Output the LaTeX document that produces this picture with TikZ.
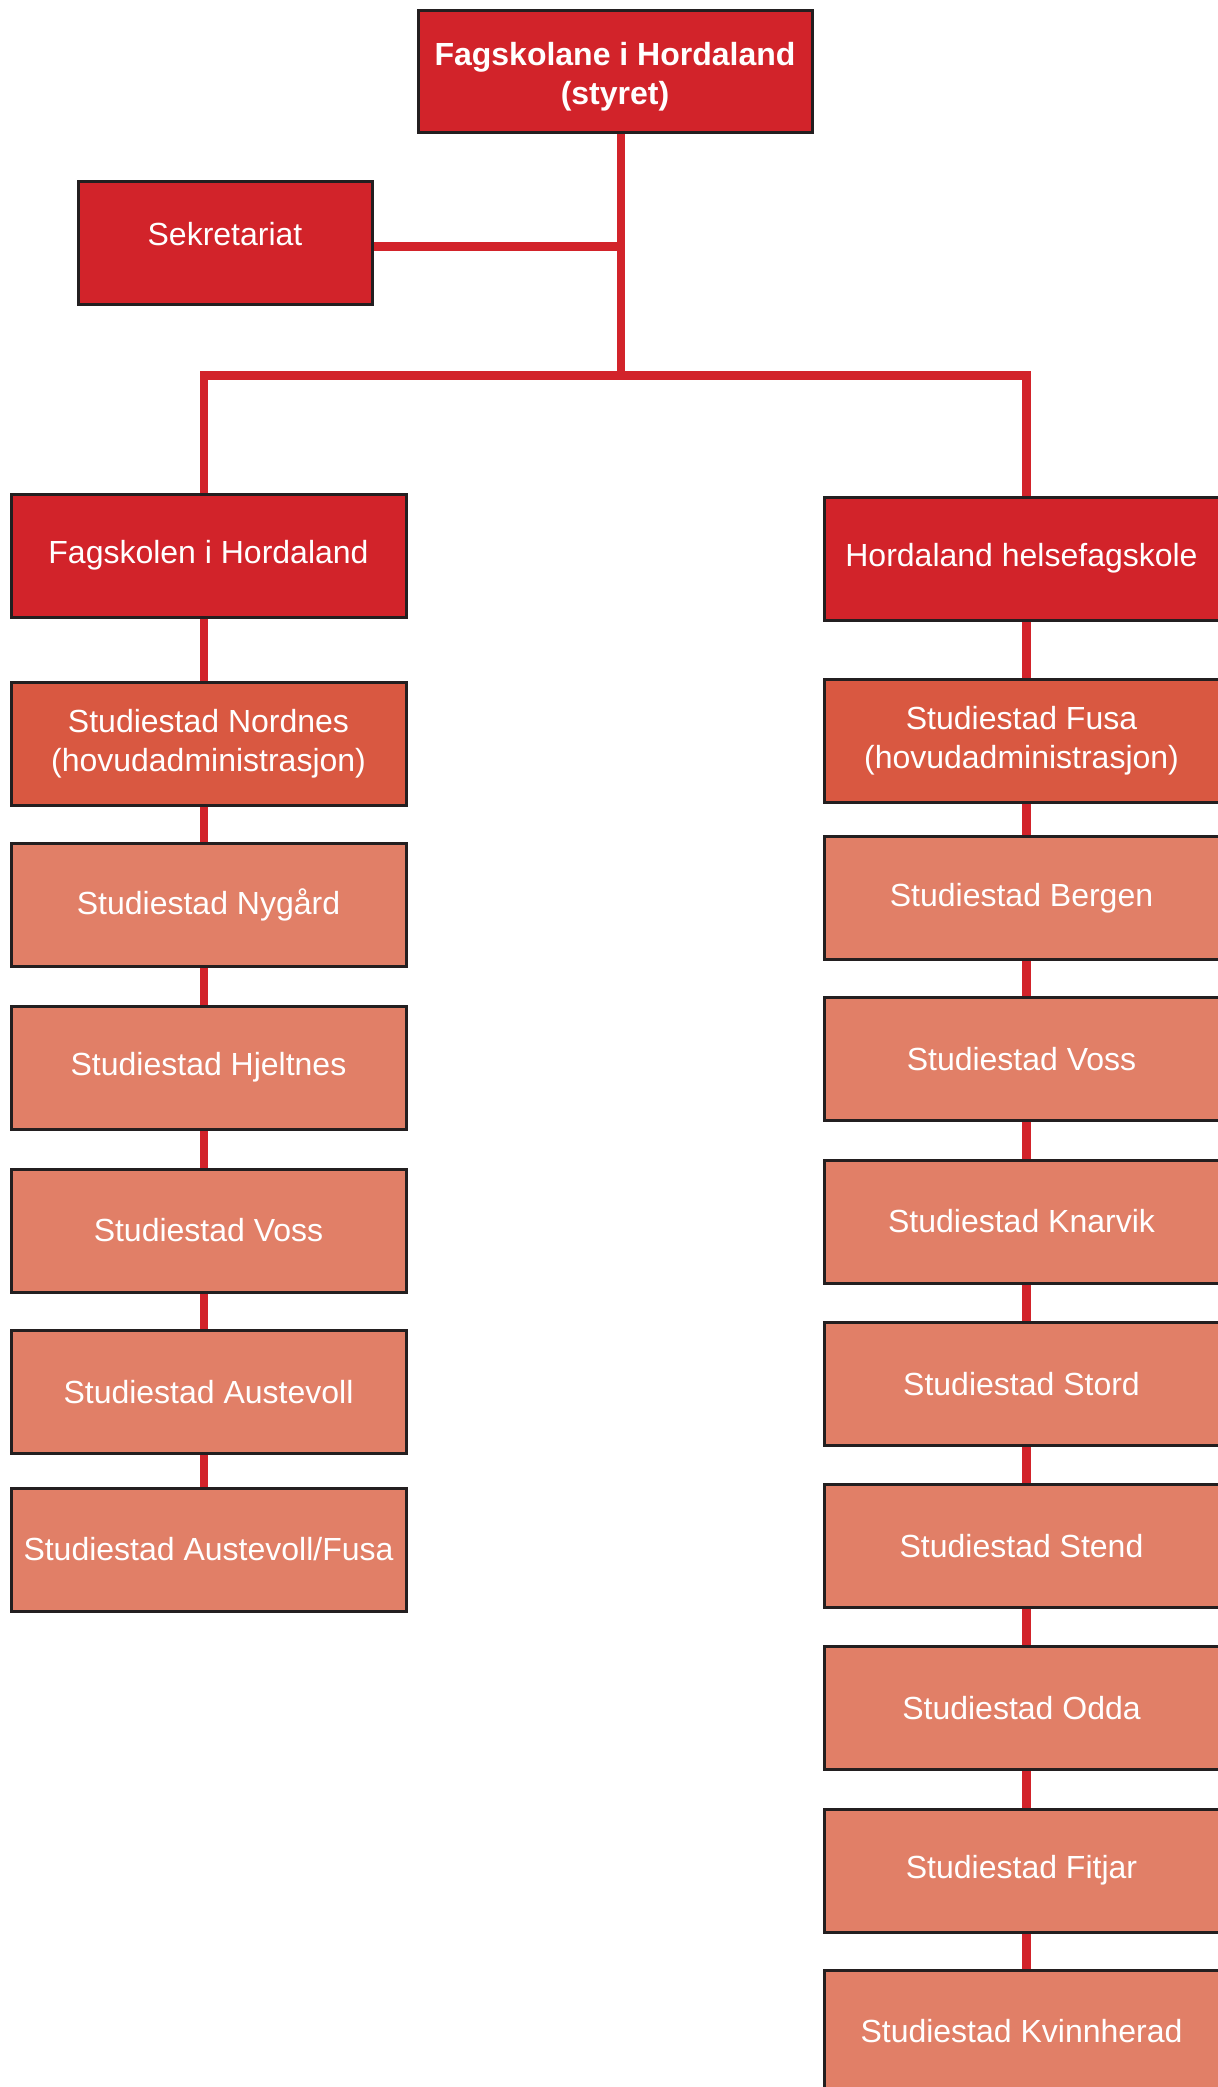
\documentclass[tikz,border=0pt]{standalone}
\usepackage{fontspec}
\setmainfont{Liberation Sans}
\usetikzlibrary{backgrounds}
\definecolor{topred}{HTML}{D2232A}
\definecolor{midred}{HTML}{D95841}
\definecolor{lightred}{HTML}{E17F67}
\definecolor{boxline}{HTML}{231F20}
\begin{document}
\begin{tikzpicture}[x=0.5pt,y=-0.5pt,
  box/.style={draw=boxline, line width=1.5pt, rectangle, inner sep=0pt,
    minimum width=197.5pt, minimum height=61.5pt, text=white, align=center,
    font=\fontsize{16}{19.5}\selectfont},
  headbox/.style={box, fill=topred},
  adminbox/.style={box, fill=midred},
  sitebox/.style={box, fill=lightred},
  conn/.style={draw=topred, line width=4.2pt, line join=miter}]
\useasboundingbox (0,0) rectangle (1218,2087);
\clip (0,0) rectangle (1218,2087);

\node[headbox, minimum width=197pt, minimum height=61pt, font=\fontsize{16}{19.5}\selectfont\bfseries] (top) at (615,72) {\rule{0pt}{16.5pt}Fagskolane i Hordaland\\(styret)};
\node[headbox, minimum width=147pt] (sek) at (225,242.5) {\raisebox{9pt}{Sekretariat}};
\node[headbox] (fhl) at (208.5,555.5) {Fagskolen i Hordaland};
\node[headbox] (hhf) at (1021.5,558.5) {Hordaland helsefagskole};

% left column
\node[adminbox] (nordnes) at (208.5,743.5) {Studiestad Nordnes\\(hovudadministrasjon)};
\node[sitebox] (nygard) at (208.5,904.5) {Studiestad Nygård};
\node[sitebox] (hjeltnes) at (208.5,1067.5) {Studiestad Hjeltnes};
\node[sitebox] (vossl) at (208.5,1230.5) {Studiestad Voss};
\node[sitebox] (austevoll) at (208.5,1392) {Studiestad Austevoll};
\node[sitebox] (austfusa) at (208.5,1549.5) {Studiestad Austevoll/Fusa};

% right column
\node[adminbox] (fusa) at (1021.5,740.5) {Studiestad Fusa\\(hovudadministrasjon)};
\node[sitebox] (bergen) at (1021.5,898) {Studiestad Bergen};
\node[sitebox] (vossr) at (1021.5,1059) {Studiestad Voss};
\node[sitebox] (knarvik) at (1021.5,1221.5) {Studiestad Knarvik};
\node[sitebox] (stord) at (1021.5,1384) {Studiestad Stord};
\node[sitebox] (stend) at (1021.5,1545.75) {Studiestad Stend};
\node[sitebox] (odda) at (1021.5,1708) {Studiestad Odda};
\node[sitebox] (fitjar) at (1021.5,1870.5) {Studiestad Fitjar};
\node[sitebox] (kvinn) at (1021.5,2031.5) {Studiestad Kvinnherad};

\begin{pgfonlayer}{background}
\coordinate (mx) at (621,0);
\coordinate (lx) at (204,0);
\coordinate (rx) at (1026.5,0);
\coordinate (bar) at (621,375.5);
\draw[conn] (top.south -| mx) -- (bar);
\draw[conn] ([yshift=-2pt]sek.east) -- ([yshift=-2pt]sek.east -| mx);
\draw[conn] (fhl.north -| lx) |- (bar) -| (hhf.north -| rx);
\foreach \a/\b in {fhl/nordnes, nordnes/nygard, nygard/hjeltnes, hjeltnes/vossl, vossl/austevoll, austevoll/austfusa}
  \draw[conn] (\a.south -| lx) -- (\b.north -| lx);
\foreach \a/\b in {hhf/fusa, fusa/bergen, bergen/vossr, vossr/knarvik, knarvik/stord, stord/stend, stend/odda, odda/fitjar, fitjar/kvinn}
  \draw[conn] (\a.south -| rx) -- (\b.north -| rx);
\end{pgfonlayer}
\end{tikzpicture}
\end{document}
